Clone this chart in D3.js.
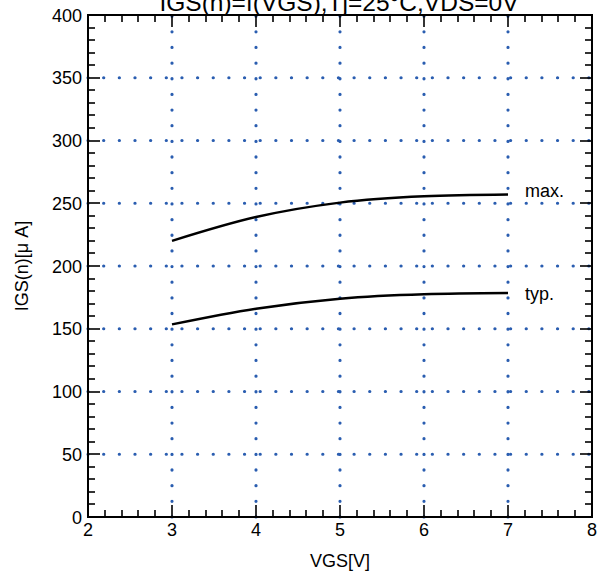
<!DOCTYPE html>
<html><head><meta charset="utf-8">
<script src="https://cdn.jsdelivr.net/npm/d3@7"></script>
<style>
html,body{margin:0;padding:0;background:#fff;}
svg{display:block;font-family:"Liberation Sans",Arial,sans-serif;}
</style></head>
<body>
<svg id="c" width="603" height="575"></svg>
<script>
const titleText = "IGS(n)=f(VGS),Tj=25°C,VDS=0V";
const xLabel = "VGS[V]";
const yLabel = "IGS(n)[\u03BC A]";
const vgs = [3, 4, 5, 6, 7];
const maxVals = [220, 239, 250.5, 255.5, 257];
const typVals = [153.5, 166, 174, 177.5, 178.5];
const seriesNames = ["max.", "typ."];
const xTicks = [2, 3, 4, 5, 6, 7, 8];
const yTicks = [0, 50, 100, 150, 200, 250, 300, 350, 400];

const svg = d3.select("#c");
const L = 88, R = 592, T = 15, B = 517;
const x = d3.scaleLinear().domain([2, 8]).range([L, R]);
const y = d3.scaleLinear().domain([0, 400]).range([B, T]);

// grid
const grid = svg.append("g").attr("stroke", "#2a5db0").attr("stroke-width", 3.2)
  .attr("stroke-dasharray", "0.1,15.55").attr("stroke-linecap", "round").attr("fill", "none");
xTicks.slice(1, -1).forEach(v => {
  grid.append("line").attr("x1", x(v)).attr("x2", x(v)).attr("y1", B).attr("y2", T);
});
yTicks.slice(1, -1).forEach(v => {
  grid.append("line").attr("x1", L).attr("x2", R).attr("y1", y(v)).attr("y2", y(v));
});

// ticks (minor every 0.2 / 10, major at labels)
const xMinor = d3.range(0, 31).map(i => 2 + i * 0.2);
const yMinor = d3.range(0, 41).map(i => i * 10);
const tg = svg.append("g").attr("fill", "none");
function isMajorX(i) { return i % 5 === 0; }
function isMajorY(i) { return i % 5 === 0; }
xMinor.forEach((v, i) => {
  const len = isMajorX(i) ? 12 : 7;
  const px = Math.round(x(v));
  tg.append("path").attr("d", `M${px},${B}V${B - len}`).attr("stroke", "#000").attr("stroke-width", 1.6);
  tg.append("path").attr("d", `M${px},${T}V${T + len}`).attr("stroke", "#000").attr("stroke-width", 1.6);
});
yMinor.forEach((v, i) => {
  const len = isMajorY(i) ? 12 : 7;
  const py = Math.round(y(v));
  tg.append("path").attr("d", `M${L},${py}H${L + len}`).attr("stroke", "#000").attr("stroke-width", 1.6);
  tg.append("path").attr("d", `M${R},${py}H${R - len}`).attr("stroke", "#000").attr("stroke-width", 1.6);
});

// frame
svg.append("rect").attr("x", L).attr("y", T).attr("width", R - L).attr("height", B - T)
  .attr("fill", "none").attr("stroke", "#000").attr("stroke-width", 2);

// tick labels
svg.append("g").selectAll("text").data(xTicks).join("text")
  .attr("x", d => x(d)).attr("y", B + 19).attr("text-anchor", "middle")
  .attr("font-size", 18).text(d => d);
svg.append("g").selectAll("text").data(yTicks).join("text")
  .attr("x", L - 6).attr("y", d => y(d) + 6.5).attr("text-anchor", "end")
  .attr("font-size", 18).text(d => d);

// titles
svg.append("text").attr("x", 339).attr("y", 11).attr("text-anchor", "middle")
  .attr("font-size", 24.5).text(titleText);
svg.append("text").attr("x", x(5)).attr("y", 567).attr("text-anchor", "middle")
  .attr("font-size", 18).text(xLabel);
svg.append("text").attr("transform", `translate(28,${(T + B) / 2}) rotate(-90)`)
  .attr("text-anchor", "middle").attr("font-size", 18).text(yLabel);

// curves
const labelDy = [3, 7];
const line = d3.line().x(d => x(d[0])).y(d => y(d[1])).curve(d3.curveMonotoneX);
[maxVals, typVals].forEach((vals, i) => {
  const pts = vgs.map((v, j) => [v, vals[j]]);
  svg.append("path").attr("d", line(pts)).attr("fill", "none")
    .attr("stroke", "#000").attr("stroke-width", 2.5);
  svg.append("text").attr("x", x(7) + 17).attr("y", y(vals[vals.length - 1]) + labelDy[i])
    .attr("font-size", 18).text(seriesNames[i]);
});
</script>
</body></html>
